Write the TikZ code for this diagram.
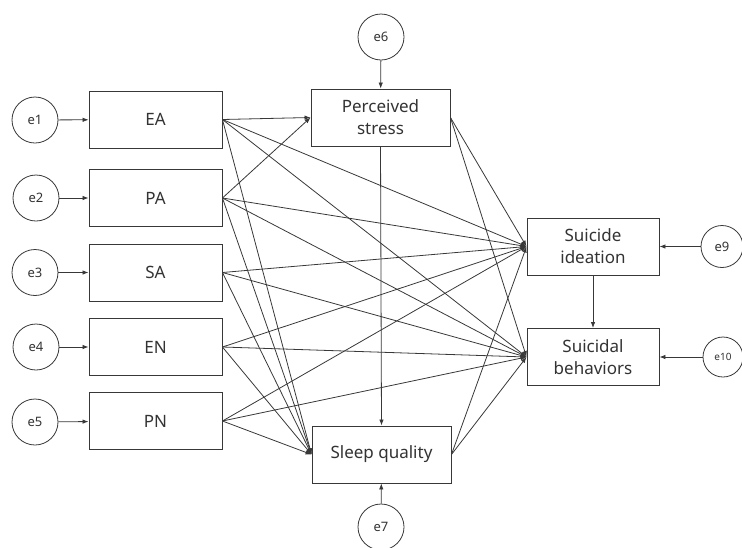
\documentclass[tikz,border=0pt]{standalone}
\usepackage{fontspec}
\setmainfont{Noto Sans}
\usepackage{tikz}
\usetikzlibrary{arrows.meta}
\definecolor{linegray}{rgb}{0.22, 0.22, 0.22}
\definecolor{textgray}{rgb}{0.2, 0.2, 0.2}

\begin{document}
\begin{tikzpicture}[x=1pt, y=-1pt, >={Latex[length=6pt,width=4.5pt]},
		var/.style={draw=linegray, line width=0.9pt, minimum width=133pt, minimum height=57pt, inner sep=0pt, align=center, text=textgray, font=\fontsize{17}{22}\selectfont},
		err/.style={draw=linegray, line width=0.8pt, circle, minimum size=46pt, inner sep=0pt, text=textgray, font=\fontsize{13}{15}\selectfont},
		path/.style={->, draw=linegray, line width=0.8pt}]
			\useasboundingbox (0,0) rectangle (742,547);
			% observed variables
			\node[var] (EA) at (155.5,119.5) {EA};
			\node[var] (PA) at (155.5,198) {PA};
			\node[var] (SA) at (155.5,272.5) {SA};
			\node[var] (EN) at (155.5,347) {EN};
			\node[var] (PN) at (155.5,421) {PN};
			\node[var, minimum width=139pt] (PS) at (380.5,117.5) {Perceived\\stress};
			\node[var, minimum width=139pt] (SQ) at (381.5,454.5) {Sleep quality};
			\node[var, minimum width=132pt] (SI) at (593,246.5) {Suicide\\ideation};
			\node[var, minimum width=132pt] (SB) at (593,357) {Suicidal\\behaviors};
			% error terms
			\node[err] (e1) at (35,120) {e1};
			\node[err] (e2) at (36,198) {e2};
			\node[err] (e3) at (35,272.5) {e3};
			\node[err] (e4) at (36,347) {e4};
			\node[err] (e5) at (35,422) {e5};
			\node[err] (e6) at (381,37) {e6};
			\node[err] (e7) at (381,527) {e7};
			\node[err, minimum size=42pt] (e9) at (722,246.5) {e9};
			\node[err, minimum size=40pt, font=\fontsize{10}{12}\selectfont] (e10) at (723,357) {e10};
			% residual arrows
			\draw[path] (e1) -- (EA);
			\draw[path] (e2) -- (PA);
			\draw[path] (e3) -- (SA);
			\draw[path] (e4) -- (EN);
			\draw[path] (e5) -- (PN);
			\draw[path] (e6) -- (PS);
			\draw[path] (e7) -- (SQ);
			\draw[path] (e9) -- (SI);
			\draw[path] (e10) -- (SB);
			% predictors to mediators
			\draw[path] (EA.east) -- (PS.west);
			\draw[path] (PA.east) -- (PS.west);
			\draw[path] (EA.east) -- (SQ.west);
			\draw[path] (PA.east) -- (SQ.west);
			\draw[path] (SA.east) -- (SQ.west);
			\draw[path] (EN.east) -- (SQ.west);
			\draw[path] (PN.east) -- (SQ.west);
			% predictors to outcomes
			\draw[path] (EA.east) -- (SI.west);
			\draw[path] (PA.east) -- (SI.west);
			\draw[path] (SA.east) -- (SI.west);
			\draw[path] (EN.east) -- (SI.west);
			\draw[path] (PN.east) -- (SI.west);
			\draw[path] (EA.east) -- (SB.west);
			\draw[path] (PA.east) -- (SB.west);
			\draw[path] (SA.east) -- (SB.west);
			\draw[path] (EN.east) -- (SB.west);
			\draw[path] (PN.east) -- (SB.west);
			% mediators to outcomes
			\draw[path] (PS.south) -- (SQ.north);
			\draw[path] (PS.east) -- (SI.west);
			\draw[path] (PS.east) -- (SB.west);
			\draw[path] (SQ.east) -- (SI.west);
			\draw[path] (SQ.east) -- (SB.west);
			\draw[path] (SI.south) -- (SB.north);
		\end{tikzpicture}
\end{document}
